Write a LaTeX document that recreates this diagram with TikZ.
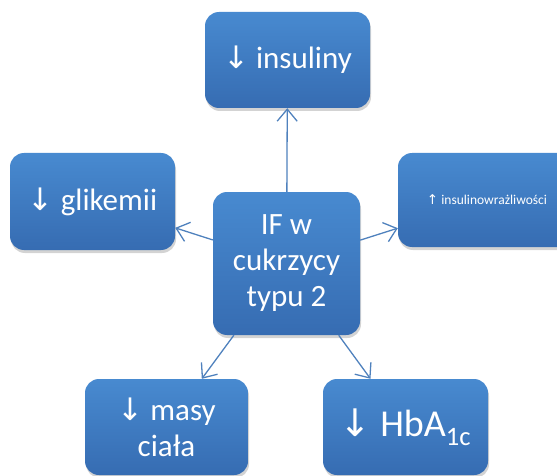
\documentclass[tikz,border=0pt]{standalone}
\usepackage{fontspec}
\setmainfont{Carlito}
\newfontfamily\arrowfont{DejaVu Sans}
\usetikzlibrary{arrows.meta, shadows}
\definecolor{colorBoxTop}{RGB}{72, 138, 208}
\definecolor{colorBoxBot}{RGB}{54, 108, 178}
\definecolor{colorLine}{RGB}{79, 129, 189}
\tikzstyle{effect} = [rectangle, rounded corners=14pt, minimum width=165pt, minimum height=96pt, align=center, text=white, top color=colorBoxTop, bottom color=colorBoxBot, drop shadow={shadow xshift=1pt, shadow yshift=-3pt, opacity=0.35}, font=\fontsize{31}{36}\selectfont]
\tikzstyle{central} = [effect, minimum width=147pt, minimum height=143pt]
\tikzstyle{arrow} = [draw=colorLine, line width=1.3pt, -{Straight Barb[length=12pt, width=20pt]}]
\newcommand{\dn}{{\arrowfont ↓}}
\newcommand{\up}{{\arrowfont ↑}}

\begin{document}
\begin{tikzpicture}
	\useasboundingbox (0,0) rectangle (557pt,-476pt);

	% center
	\node (ifT2D)[central] at (286.5pt,-263.5pt) {IF w\\cukrzycy\\typu 2};

	% effects
	\node (insulin)[effect] at (287.5pt,-60pt) {\dn\ insuliny};
	\node (glycemia)[effect, minimum height=97pt] at (92.5pt,-201.5pt) {\dn\ glikemii};
	\node (sensitivity)[effect, minimum width=178pt, minimum height=94pt, font=\fontsize{13.5}{16}\selectfont] at (487pt,-200pt) {\up\ insulinowrażliwości};
	\node (bodyMass)[effect, minimum width=163pt] at (166.5pt,-427pt) {\dn\ masy\\ciała};
	\node (hba)[effect, font=\fontsize{38}{44}\selectfont] at (405.5pt,-427pt) {\dn\ HbA\textsubscript{1c}};

	% lines and arrows
	\draw[arrow](ifT2D) -- (insulin);
	\draw[arrow](ifT2D) -- (glycemia);
	\draw[arrow](ifT2D) -- (sensitivity);
	\draw[arrow](ifT2D) -- (bodyMass);
	\draw[arrow](ifT2D) -- (hba);

\end{tikzpicture}
\end{document}
